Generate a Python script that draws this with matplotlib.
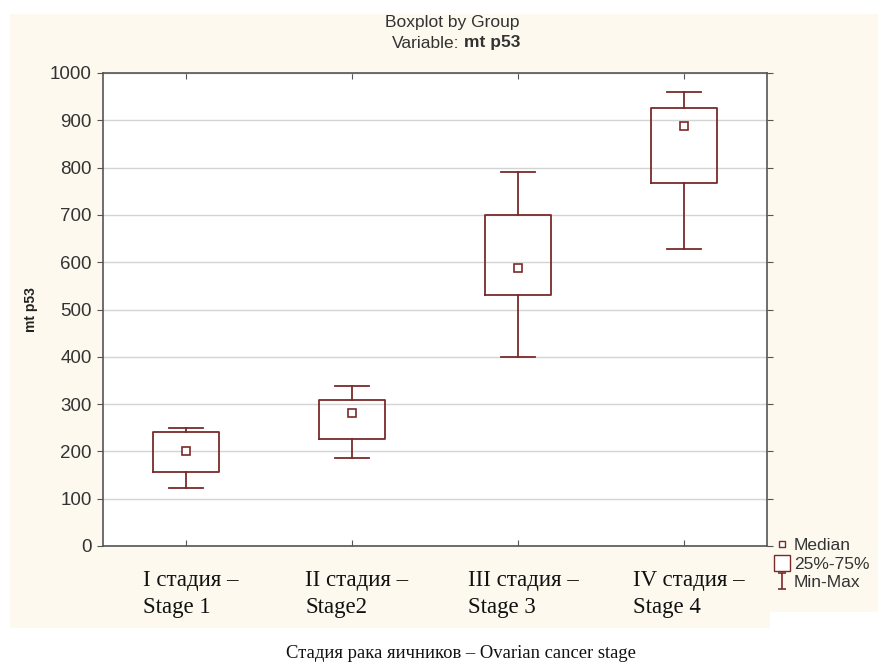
import numpy as np
import matplotlib
matplotlib.use("Agg")
import matplotlib.pyplot as plt
import matplotlib.transforms as mtransforms
from matplotlib.lines import Line2D
from matplotlib.patches import Rectangle
from matplotlib.path import Path

# data
stages = ["I стадия –\nStage 1", "II стадия –\nStage2",
          "III стадия –\nStage 3", "IV стадия –\nStage 4"]
medians = [200, 281, 588, 888]
q1 = [156, 226, 531, 767]
q3 = [241, 309, 700, 925]
mins = [123, 186, 400, 628]
maxs = [249, 338, 791, 960]

box_color = "#7a2a2a"
cream = "#fdf9ee"
plt.rcParams['font.family'] = ['Liberation Sans', 'DejaVu Sans']

W, H = 879, 668
fig = plt.figure(figsize=(W / 100, H / 100), dpi=100)
fig.patch.set_facecolor("white")

# cream background pieces
fig.add_artist(Rectangle((10 / W, 1 - 612 / H), 1 - 10 / W, (612 - 14) / H,
                         transform=fig.transFigure, color=cream, zorder=-5, lw=0))
fig.add_artist(Rectangle((10 / W, 1 - 628 / H), (770 - 10) / W, 17 / H,
                         transform=fig.transFigure, color=cream, zorder=-5, lw=0))

ax = fig.add_axes([103 / W, 1 - 546 / H, (767 - 103) / W, (546 - 73) / H])
ax.set_facecolor("white")

positions = np.arange(1, len(stages) + 1)
stats = []
for i in range(len(stages)):
    stats.append(dict(med=medians[i], q1=q1[i], q3=q3[i],
                      whislo=mins[i], whishi=maxs[i], fliers=[]))

lineprops = dict(color=box_color, linewidth=1.3)
ax.bxp(stats, positions=positions, widths=0.4, capwidths=0.21, showfliers=False,
       boxprops=lineprops, whiskerprops=lineprops, capprops=lineprops,
       medianprops=dict(linewidth=0), zorder=3)
ax.plot(positions, medians, ls="none", marker="s", ms=6, mfc="white",
        mec=box_color, mew=1.2, zorder=4)

ax.set_xlim(0.5, 4.5)
ax.set_ylim(0, 1000)
ax.set_yticks(np.arange(0, 1001, 100))
ax.yaxis.grid(True, color="#d4d4d4", lw=1)
ax.set_axisbelow(True)

for s in ax.spines.values():
    s.set_color("#555555")
    s.set_linewidth(1.2)

ax.tick_params(axis="y", direction="out", length=4, labelsize=13.5,
               labelcolor="#333333", color="#555555", right=True, pad=4)
ax.tick_params(axis="x", direction="in", length=4, top=True, color="#555555", pad=17)

ax.set_xticks(positions)
ax.set_xticklabels(stages, fontfamily="Liberation Serif", fontsize=16.5,
                   multialignment="left", linespacing=1.4, color="#111111")
offset = mtransforms.ScaledTranslation(5 / 100, 0, fig.dpi_scale_trans)
for lab in ax.get_xticklabels():
    lab.set_transform(lab.get_transform() + offset)

ax.set_ylabel("mt p53", fontsize=10, fontweight="bold", color="#222222")
ax.yaxis.set_label_coords(-0.098, 0.5)

# title
fig.text(452 / W, 1 - 23 / H, "Boxplot by Group", ha="center", va="center",
         fontsize=12.5, color="#333333")
fig.text(459 / W, 1 - 43 / H, "Variable:", ha="right", va="center",
         fontsize=12.5, color="#333333")
fig.text(464 / W, 1 - 43 / H, "mt p53", ha="left", va="center",
         fontsize=12.5, fontweight="bold", color="#333333")

fig.text(461 / W, 1 - 653 / H, "Стадия рака яичников – Ovarian cancer stage",
         ha="center", va="center", fontfamily="Liberation Serif", fontsize=13.4,
         color="#111111")

# legend
minmax = Path([(-0.45, -1), (0.45, -1), (0, -1), (0, 1), (-0.45, 1), (0.45, 1)],
              [Path.MOVETO, Path.LINETO, Path.MOVETO, Path.LINETO,
               Path.MOVETO, Path.LINETO])
handles = [
    Line2D([], [], ls="none", marker="s", ms=5, mfc="white", mec=box_color, mew=1),
    Line2D([], [], ls="none", marker="s", ms=12, mfc="white", mec=box_color, mew=1),
    Line2D([], [], ls="none", marker=minmax, ms=12, mfc="none", mec=box_color, mew=1.2),
]
fig.legend(handles, ["Median", "25%-75%", "Min-Max"], loc="upper left",
           bbox_to_anchor=(774 / W, 1 - 538 / H), frameon=False, fontsize=12.5,
           handlelength=0.9, handletextpad=0.25, labelspacing=0.2,
           borderpad=0, borderaxespad=0, labelcolor="#333333")

fig.savefig("out.png", dpi=100)
